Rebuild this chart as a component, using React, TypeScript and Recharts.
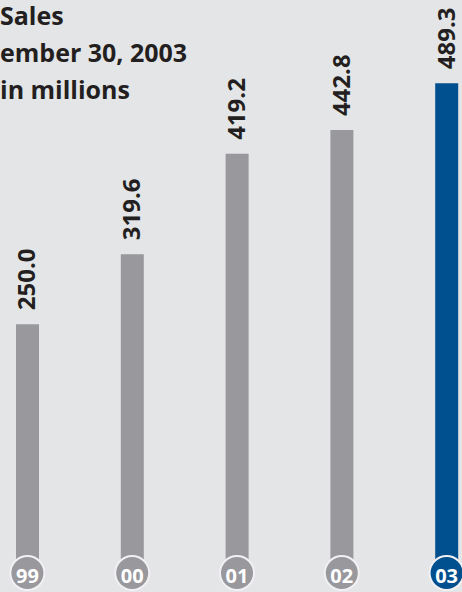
import { BarChart, Bar, XAxis, YAxis, Cell, LabelList } from 'recharts';

const years = ['99', '00', '01', '02', '03'];
const sales = [250.0, 319.6, 419.2, 442.8, 489.3];
const titleLines = ['Sales', 'ember 30, 2003', 'in millions'];

const grey = '#99989d';
const blue = '#004f8e';
const ink = '#231f20';
const font = '"Open Sans", sans-serif';

const data = years.map((year, i) => ({ year, value: sales[i] }));

function ValueLabel(props: any) {
  const { x, y, width, value } = props;
  const cx = x + width / 2 + 8;
  const cy = y - 14;
  return (
    <text
      x={cx}
      y={cy}
      transform={`rotate(-90 ${cx} ${cy})`}
      textAnchor="start"
      fontFamily={font}
      fontWeight={700}
      fontSize={24}
      fill={ink}
    >
      {Number(value).toFixed(1)}
    </text>
  );
}

function YearTick(props: any) {
  const { x, y, payload, index } = props;
  const last = index === years.length - 1;
  const cy = y - 3;
  return (
    <g>
      <circle cx={x} cy={cy} r={18} fill="#f1f1f3" />
      <circle cx={x} cy={cy} r={16} fill={last ? blue : grey} />
      <text
        x={x}
        y={cy + 10}
        textAnchor="middle"
        fontFamily={font}
        fontWeight={700}
        fontSize={20}
        fill="#ffffff"
      >
        {payload.value}
      </text>
    </g>
  );
}

export default function App() {
  return (
    <div
      style={{
        position: 'absolute',
        left: 0,
        top: 0,
        width: 462,
        height: 592,
        overflow: 'hidden',
        background: '#e4e5e7',
      }}
    >
      <div style={{ position: 'absolute', left: -25, top: 0 }}>
        <BarChart
          width={524}
          height={592}
          data={data}
          margin={{ top: 0, right: 0, bottom: 0, left: 0 }}
          barSize={23}
        >
          <YAxis hide domain={[0, 572]} />
          <XAxis
            dataKey="year"
            height={16}
            axisLine={false}
            tickLine={false}
            tickSize={0}
            tickMargin={0}
            interval={0}
            tick={<YearTick />}
          />
          <Bar dataKey="value" isAnimationActive={false}>
            {data.map((d, i) => (
              <Cell key={d.year} fill={i === data.length - 1 ? blue : grey} />
            ))}
            <LabelList dataKey="value" content={<ValueLabel />} />
          </Bar>
        </BarChart>
      </div>
      {titleLines.map((line, i) => (
        <div
          key={line}
          style={{
            position: 'absolute',
            left: 0,
            top: 37 * i,
            fontFamily: font,
            fontWeight: 700,
            fontSize: 25,
            color: ink,
            whiteSpace: 'nowrap',
            lineHeight: '30px',
          }}
        >
          {line}
        </div>
      ))}
    </div>
  );
}
